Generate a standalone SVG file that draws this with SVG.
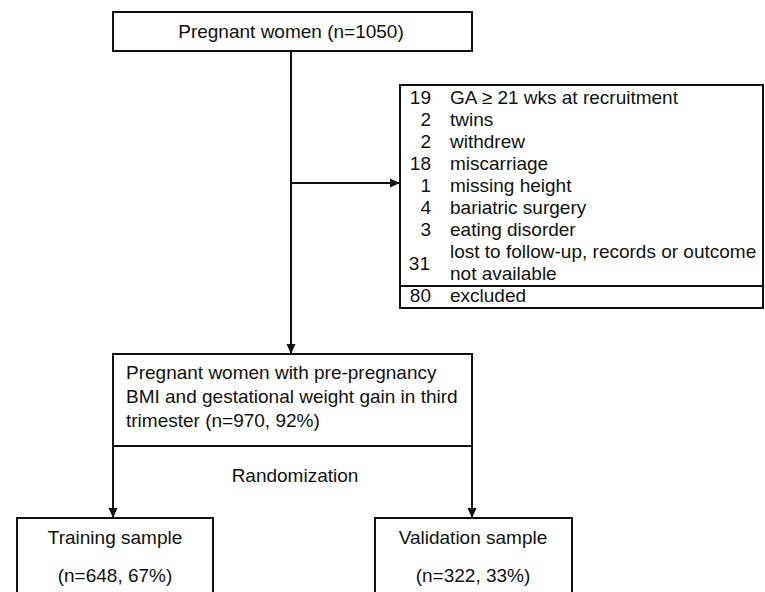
<svg xmlns="http://www.w3.org/2000/svg" width="765" height="592" viewBox="0 0 765 592">
<defs>
<style>
text{font-family:"Liberation Sans",Arial,sans-serif;font-size:19px;fill:#111}
.box{fill:#fff;stroke:#111;stroke-width:2}
.ln{fill:none;stroke:#111;stroke-width:2}
.c{text-anchor:middle}
.r{text-anchor:end}
</style>
<marker id="ah" viewBox="0 0 10 10" refX="10" refY="5" markerWidth="10" markerHeight="10" markerUnits="userSpaceOnUse" orient="auto">
<path d="M0,0.5 L10,5 L0,9.5 Z" fill="#111"/>
</marker>
</defs>
<rect width="765" height="592" fill="#fff"/>
<g id="connectors">
<line class="ln" x1="291" y1="51" x2="291" y2="354" marker-end="url(#ah)"/>
<line class="ln" x1="291" y1="183" x2="400" y2="183" marker-end="url(#ah)"/>
<line class="ln" x1="113" y1="446" x2="113" y2="518" marker-end="url(#ah)"/>
<line class="ln" x1="472" y1="446" x2="472" y2="518" marker-end="url(#ah)"/>
</g>
<g id="n-start">
<rect class="box" x="113" y="12" width="359" height="39"/>
<text class="c" x="291" y="38">Pregnant women (n=1050)</text>
</g>
<g id="n-excluded">
<rect class="box" x="400" y="85" width="363" height="223"/>
<line class="ln" x1="400" y1="286" x2="763" y2="286"/>
<text class="r" x="431" y="104">19</text><text x="450" y="104">GA ≥ 21 wks at recruitment</text>
<text class="r" x="431" y="126">2</text><text x="450" y="126">twins</text>
<text class="r" x="431" y="148">2</text><text x="450" y="148">withdrew</text>
<text class="r" x="431" y="170">18</text><text x="450" y="170">miscarriage</text>
<text class="r" x="431" y="192">1</text><text x="450" y="192">missing height</text>
<text class="r" x="431" y="214">4</text><text x="450" y="214">bariatric surgery</text>
<text class="r" x="431" y="236">3</text><text x="450" y="236">eating disorder</text>
<text class="r" x="430" y="270">31</text><text x="450" y="258">lost to follow-up, records or outcome</text>
<text x="450" y="280">not available</text>
<text class="r" x="431" y="302">80</text><text x="450" y="302">excluded</text>
</g>
<g id="n-included">
<rect class="box" x="113" y="354" width="359" height="92"/>
<text x="126" y="379">Pregnant women with pre-pregnancy</text>
<text x="126" y="403">BMI and gestational weight gain in third</text>
<text x="126" y="427">trimester (n=970, 92%)</text>
</g>
<g id="lbl-random">
<text class="c" x="295" y="482">Randomization</text>
</g>
<g id="n-training">
<rect class="box" x="17" y="518" width="196" height="80"/>
<text class="c" x="115" y="544">Training sample</text>
<text class="c" x="115" y="582">(n=648, 67%)</text>
</g>
<g id="n-validation">
<rect class="box" x="375" y="518" width="197" height="80"/>
<text class="c" x="473" y="544">Validation sample</text>
<text class="c" x="473" y="582">(n=322, 33%)</text>
</g>
</svg>
